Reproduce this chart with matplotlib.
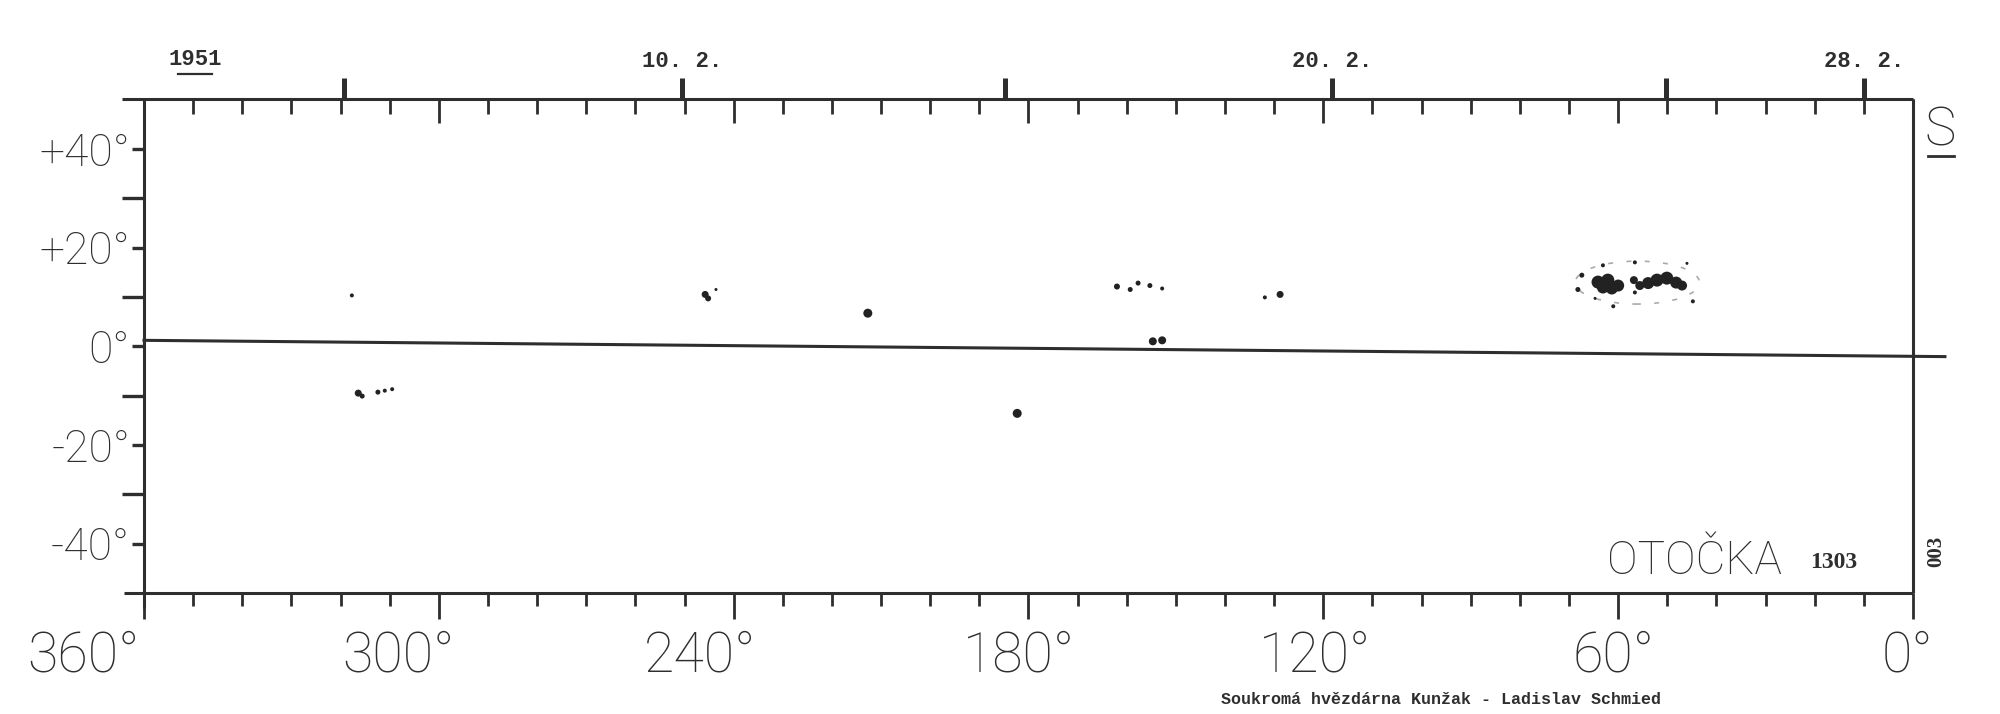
import matplotlib
matplotlib.use("Agg")
import matplotlib.pyplot as plt
import matplotlib.transforms as mtransforms
from matplotlib.patches import Ellipse

INK = "#2e2e2e"

# Carrington longitude axis (bottom and inner top ticks)
lon_major = [360, 300, 240, 180, 120, 60, 0]
lon_major_labels = ["360°", "300°", "240°", "180°", "120°", "60°", "0°"]
lon_minor = list(range(0, 361, 10))

# heliographic latitude axis
lat_major = [-40, -20, 0, 20, 40]
lat_labels = ["-40°", "-20°", "0°", "+20°", "+40°"]
lat_minor = [-30, -10, 10, 30]

# dates (February 1951) marked on top edge, as longitude of central meridian
date_lon = [319.3, 250.5, 184.8, 118.2, 50.3, 10.0]
date_labels = ["", "10. 2.", "", "20. 2.", "", "28. 2."]

# solar equator as drawn on the sheet
eq_lon = [360, -6.5]
eq_lat = [1.2, -2.1]

# sunspots: longitude, latitude, blot diameter (px)
spot_lon = [317.7,
            316.4, 315.6, 312.4, 311.0, 309.5,
            245.8, 245.2, 243.6,
            212.7,
            182.3,
            162.0, 159.3, 157.7, 155.3, 152.8,
            154.7, 152.8,
            131.9, 128.8,
            64.1, 62.1, 60.0, 61.3, 63.1, 56.8, 55.6, 53.9, 52.1, 50.1, 48.2, 47.0,
            67.4, 68.2, 63.1, 56.6, 46.0, 56.6, 61.0, 44.8, 64.7]
spot_lat = [10.3,
            -9.5, -10.1, -9.3, -9.0, -8.7,
            10.5, 9.7, 11.5,
            6.7,
            -13.6,
            12.1, 11.5, 12.8, 12.3, 11.7,
            1.0, 1.2,
            9.9, 10.5,
            13.0, 13.4, 12.3, 11.7, 11.9, 13.4, 12.3, 12.8, 13.4, 13.8, 12.9, 12.3,
            14.4, 11.5, 16.4, 17.0, 16.8, 10.9, 8.1, 9.1, 9.7]
spot_diam = [4,
             7, 5, 5, 4, 4,
             7, 6, 3,
             9,
             9,
             6, 5, 5, 5, 4,
             8, 8,
             4, 7,
             13, 13, 12, 12, 12, 8, 9, 12, 13, 13, 12, 10,
             5, 5, 4, 4, 3, 4, 4, 4, 3]

# penumbra outline of the big group
pen_lon, pen_lat, pen_w, pen_h = 56.1, 12.9, 25.3, 8.7

fig = plt.figure(figsize=(20, 7.14), dpi=100)
fig.patch.set_facecolor("white")
ax = fig.add_axes([0.072, 1 - 593 / 714, 0.8845, 493.5 / 714])
ax.set_xlim(360, 0)
ax.set_ylim(-50, 50)
for s in ax.spines.values():
    s.set_visible(False)

# frame drawn by hand so the lines can overshoot like the original sheet
lw = 2.2
ax.plot([364.5, 0], [50, 50], color=INK, lw=lw, clip_on=False, solid_capstyle="butt")
ax.plot([364, 0], [-50, -50], color=INK, lw=lw, clip_on=False, solid_capstyle="butt")
ax.plot([360, 360], [50, -53], color=INK, lw=lw, clip_on=False, solid_capstyle="butt")
ax.plot([0, 0], [50, -50], color=INK, lw=lw, clip_on=False, solid_capstyle="butt")
ax.plot(eq_lon, eq_lat, color=INK, lw=2.2, clip_on=False)

# bottom longitude scale
ax.set_xticks(lon_major, labels=lon_major_labels)
ax.set_xticks(lon_minor, minor=True)
ax.tick_params(axis="x", which="major", direction="out", length=19, width=2,
               color=INK, pad=7, labelsize=40, labelcolor=INK)
ax.tick_params(axis="x", which="minor", direction="out", length=9.5, width=2, color=INK)
# hand-lettered labels sit a little left of their ticks on the sheet
shift_px = [-61, -40, -34, -10, -8, -5, -6]
for lbl, dx in zip(ax.get_xticklabels(), shift_px):
    lbl.set_fontfamily("Roboto")
    lbl.set_fontweight("light")
    lbl.set_transform(lbl.get_transform() +
                      mtransforms.ScaledTranslation(dx / 100, 0, fig.dpi_scale_trans))

# latitude scale
ax.set_yticks(lat_major, labels=lat_labels)
ax.set_yticks(lat_minor, minor=True)
ax.tick_params(axis="y", which="major", direction="out", length=9, width=2.4, color=INK,
               pad=1, labelsize=32, labelcolor=INK)
ax.tick_params(axis="y", which="minor", direction="out", length=16, width=2.4, color=INK)
for lbl in ax.get_yticklabels():
    lbl.set_fontfamily("Roboto")
    lbl.set_fontweight("light")

# top edge: longitude ticks pointing into the chart
top = ax.secondary_xaxis("top")
top.set_xticks(lon_major)
top.set_xticks(lon_minor, minor=True)
top.tick_params(which="major", direction="in", length=17, width=2, color=INK, labeltop=False)
top.tick_params(which="minor", direction="in", length=11, width=2, color=INK)
for s in top.spines.values():
    s.set_visible(False)

# top edge: dates
dates = ax.secondary_xaxis("top")
dates.set_xticks(date_lon, labels=date_labels)
dates.set_xticks([], minor=True)
dates.tick_params(direction="out", length=15, width=3.6, color=INK, pad=5,
                  labelsize=16, labelcolor=INK)
for lbl in dates.get_xticklabels():
    lbl.set_fontfamily("Liberation Mono")
    lbl.set_fontweight("bold")
for s in dates.spines.values():
    s.set_visible(False)

# sunspots
ax.scatter(spot_lon, spot_lat, s=[(d * 0.72) ** 2 for d in spot_diam],
           color="#222222", edgecolors="none", zorder=3)
ax.add_patch(Ellipse((pen_lon, pen_lat), pen_w, pen_h, fill=False, edgecolor="#aaaaaa",
                     lw=1.2, linestyle=(0, (3, 8)), zorder=2))

# annotations
bt = mtransforms.blended_transform_factory(ax.transData, ax.transAxes)
ax.text(349.6, 1.06, "1951", transform=bt, ha="center", va="bottom",
        fontsize=16, family="Liberation Mono", fontweight="bold", color=INK)
ax.plot([353.0, 346.2], [1.052, 1.052], transform=bt, color=INK, lw=1.6, clip_on=False)

ax.text(-5.6, 43.6, "S", ha="center", va="center", fontsize=38,
        family="Roboto", fontweight="light", color=INK)
ax.plot([-3.1, -8.4], [38.6, 38.6], color=INK, lw=2.0, clip_on=False)
ax.text(-4.7, -41.5, "003", ha="center", va="center", rotation=90, fontsize=15,
        family="Liberation Serif", fontweight="bold", color=INK)

ax.text(44.4, -43.5, "OTOČKA", ha="center", va="center", fontsize=33,
        family="Roboto", fontweight="light", color=INK)
ax.text(16.1, -43.9, "1303", ha="center", va="center", fontsize=17,
        family="Liberation Serif", fontweight="bold", color=INK)

fig.text(0.7205, 0.021, "Soukromá hvězdárna Kunžak - Ladislav Schmied", ha="center",
         va="center", fontsize=12, family="Liberation Mono", fontweight="bold", color=INK)

fig.savefig("out.png", dpi=100, facecolor="white")
